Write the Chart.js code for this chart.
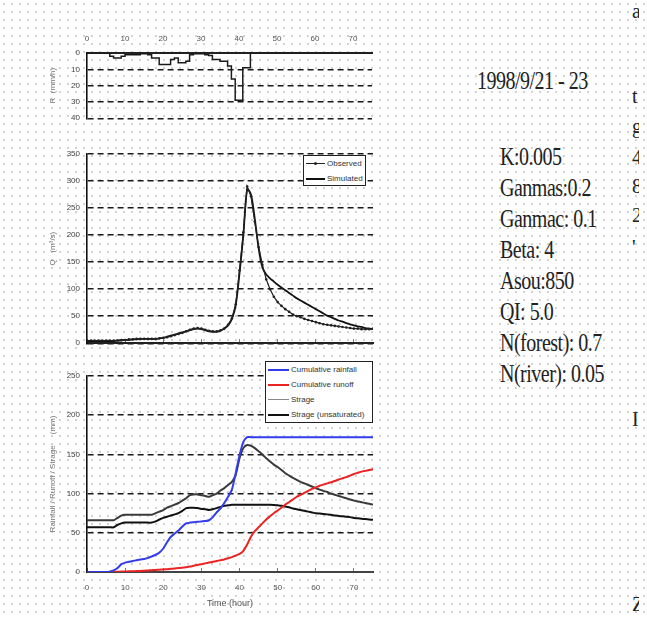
<!DOCTYPE html>
<html>
<head>
<meta charset="utf-8">
<script src="https://cdn.jsdelivr.net/npm/chart.js@4.4.1/dist/chart.umd.min.js"></script>
<style>
body { margin:0; width:647px; height:617px; position:relative; overflow:hidden; background-color:#fff;
  background-image: radial-gradient(circle, #d2d2d2 0.9px, transparent 1.3px); background-size: 8px 8px;
  font-family: 'Liberation Sans', Arial, sans-serif; }
canvas { position:absolute; }
.legend { position:absolute; background:#fff; border:1px solid #222; font-size:8px; color:#333; box-sizing:border-box; }
.legend div { height:15px; line-height:15px; white-space:nowrap; position:relative; }
.legend .sw { display:inline-block; width:20px; vertical-align:middle; margin:0 2px 0 2px; position:relative; }
.info { position:absolute; font-family:'Liberation Serif','Times New Roman',serif; font-size:20px; color:#222;
  transform-origin:0 0; transform:scaleY(1.25); letter-spacing:-0.5px; white-space:nowrap; }
.edge { position:absolute; left:630px; top:0; width:9px; height:617px; overflow:hidden; }
.edge div { position:absolute; left:2px; font-family:'Liberation Serif',serif; font-size:20px; color:#222; }
</style>
</head>
<body>
<canvas id="rain" width="340" height="105" style="left:40px;top:25px"></canvas>
<canvas id="flow" width="340" height="215" style="left:40px;top:140px"></canvas>
<canvas id="bal" width="340" height="255" style="left:40px;top:362px"></canvas>
<div class="legend" id="leg1" style="left:303px;top:155px;width:63px;height:31px"></div>
<div class="legend" id="leg2" style="left:265px;top:361px;width:108px;height:62px"></div>
<div id="txt"></div>
<div class="edge" id="edge"></div>
<script>
// hours 0..75
let horas = [0,1,2,3,4,5,6,7,8,9,10,11,12,13,14,15,16,17,18,19,20,21,22,23,24,25,26,27,28,29,30,31,32,33,34,35,36,37,38,39,
  40,41,42,43,44,45,46,47,48,49,50,51,52,53,54,55,56,57,58,59,60,61,62,63,64,65,66,67,68,69,70,71,72,73,74,75];
let ticksX = [0,10,20,30,40,50,60,70];

// rainfall intensity (mm/h)
let lluvia = [0,0,0,0,0,0,2,3,3,2,1,1,1,1,0.5,0.5,1,3,3,7,7,7,4,3,6,6,5,1,0.5,0.5,0.5,1,1.5,4,4,5,5,8,16,29,
  29,9,9,0,0,0,0,0,0,0,0,0,0,0,0,0,0,0,0,0,0,0,0,0,0,0,0,0,0,0,0,0,0,0,0,0];

// discharge
let observado = [5,5,5,5,5,5,5,5,5,6,6,7,7,8,8,8,8,8,8,9,10,11,13,15,17,19,22,25,27,28,27,25,23,22,22,24,27,34,46,72,
  135,205,290,272,225,178,145,118,100,86,76,69,63,58,53,50,48,45,43,41,39,37,35,34,33,32,31,30,29,28,27,27,26,26,26,27];
let simulado = [4,4,4,4,4,4,4,4,5,5,6,6,7,7,8,8,8,8,8,9,10,12,14,16,18,20,22,24,26,27,26,24,22,21,21,23,27,33,45,70,
  130,200,285,275,230,176,140,127,120,114,108,103,98,93,88,83,79,75,71,67,63,59,55,51,48,45,42,40,37,35,33,31,30,28,27,26];

// water balance (mm)
let lluviaAcum = [0,0,0,0,0,0,0.5,2,5,10,12,13,14,15,16,16.5,18,20,22,25,30,38,45,49,53,58,62,63,63.5,64,64.5,65,66,70,76,81,88,96,105,126,
  149,166,172,172,172,172,172,172,172,172,172,172,172,172,172,172,172,172,172,172,172,172,172,172,172,172,172,172,172,172,172,172,172,172,172,172];
let escorrentia = [0,0,0,0,0,0,0.2,0.3,0.4,0.5,0.6,0.8,1,1.2,1.4,1.7,2,2.3,2.6,2.9,3.2,3.6,4,4.5,5,5.5,6.2,7,8,9,10,11,12,13,14,15,16,17.5,19,21,
  23,27,35,45,52,57,62,67,71,75,78.5,82,86,89,92.5,96,98.5,101,103.5,106,108,110,111.5,113,114.5,116,118,119.5,121,123,125,126.5,128,129,130,131];
let almacen = [66,66,66,66,66,66,66,66,69,72,73,73,73,73,73,73,73,73,75,77,79,82,84,86,88,91,94,98,99,99,98,97,96,98,100,104,107,111,115,124,
  145,158,162,161,158,154,150,145,141,137,134,130,126,123,120,117.5,115,113,111,109,107,105,103.5,102,100,98.5,97,95.5,94,92.5,91,90,89,88,87,86];
let almacenNoSat = [57,57,57,57,57,57,57,57,60,62,63,63,63,63,63,63,63,63,64.5,67,69,70.5,72,73.5,75,78,81.5,82,82,81.5,80.5,80,79,80,81.5,83,84.5,85,85.7,85.7,
  85.7,85.7,85.7,85.7,85.7,85.7,85.7,85.7,85.7,85.5,85,84.5,83.6,82.5,81,80,79,78,77,76,75,74.5,74,73.5,73,72,71.5,71,70.5,70,69,68.5,68,67.5,67,66.6];

let parametros = ['K:0.005','Ganmas:0.2','Ganmac: 0.1','Beta: 4','Asou:850','QI: 5.0','N(forest): 0.7','N(river): 0.05'];
let fecha = '1998/9/21 - 23';

function pares(vals){
  let r = [];
  for (let i = 0; i < horas.length; i++) r.push({x: horas[i], y: vals[i]});
  return r;
}

let fuente = {family: "'Liberation Sans', Arial, sans-serif", size: 8};
let rejilla = {color: '#1a1a1a', lineWidth: 1.4, drawTicks: false};
let bordeY = {display: true, color: '#111', width: 1.6, dash: [6, 4]};

function ejeY(max, paso, titulo){
  return {
    min: 0, max: max,
    ticks: {stepSize: paso, font: fuente, color: '#444', padding: 7, includeBounds: false},
    grid: rejilla,
    border: bordeY,
    title: {display: true, text: titulo, font: {family: fuente.family, size: 8}, color: '#777', padding: {top: 8, bottom: 0}},
    afterFit: function(s){ s.width = 47; }
  };
}

let comunes = {responsive: false, animation: false, devicePixelRatio: 1,
  plugins: {legend: {display: false}, tooltip: {enabled: false}}};

// top: hyetograph
let yR = ejeY(40, 10, 'R  (mm/h)');
yR.reverse = true;
new Chart(document.getElementById('rain'), {
  type: 'line',
  data: {datasets: [{label: 'Rainfall', data: pares(lluvia), stepped: true, borderColor: '#1a1a1a', borderWidth: 1.5, pointRadius: 0, fill: false}]},
  options: Object.assign({}, comunes, {
    layout: {padding: {left: 0, right: 8, top: 0, bottom: 4}},
    scales: {
      x: {type: 'linear', position: 'top', min: 0, max: 75,
        afterBuildTicks: function(s){ s.ticks = ticksX.map(v => ({value: v})); },
        ticks: {font: fuente, color: '#555', padding: 9},
        grid: {display: false, drawTicks: false},
        border: {display: true, color: '#222', width: 2},
        afterFit: function(s){ s.height = 28; }},
      y: yR
    }
  })
});

// middle: discharge
new Chart(document.getElementById('flow'), {
  type: 'line',
  data: {datasets: [
    {label: 'Observed', data: pares(observado), borderColor: '#222', borderWidth: 1.2, pointRadius: 1.3, pointBackgroundColor: '#222', pointBorderWidth: 0, tension: 0},
    {label: 'Simulated', data: pares(simulado), borderColor: '#111', borderWidth: 1.8, pointRadius: 0, tension: 0.3}
  ]},
  options: Object.assign({}, comunes, {
    layout: {padding: {left: 0, right: 7, top: 14, bottom: 0}},
    scales: {
      x: {type: 'linear', position: 'bottom', min: 0, max: 75,
        afterBuildTicks: function(s){ s.ticks = ticksX.map(v => ({value: v})); },
        ticks: {display: false},
        grid: {display: true, drawOnChartArea: false, drawTicks: true, tickLength: -4, color: '#777', lineWidth: 1},
        border: {display: true, color: '#222', width: 2},
        afterFit: function(s){ s.height = 7; }},
      y: ejeY(350, 50, 'Q   (m³/s)')
    }
  })
});

// bottom: cumulative balance
new Chart(document.getElementById('bal'), {
  type: 'line',
  data: {datasets: [
    {label: 'Cumulative rainfall', data: pares(lluviaAcum), borderColor: 'rgb(50,60,235)', borderWidth: 2, pointRadius: 0, tension: 0.2},
    {label: 'Cumulative runoff', data: pares(escorrentia), borderColor: 'rgb(235,35,35)', borderWidth: 2, pointRadius: 0, tension: 0.2},
    {label: 'Strage', data: pares(almacen), borderColor: '#3a3a3a', borderWidth: 2, pointRadius: 0, tension: 0.2},
    {label: 'Strage (unsaturated)', data: pares(almacenNoSat), borderColor: '#111', borderWidth: 2, pointRadius: 0, tension: 0.2}
  ]},
  options: Object.assign({}, comunes, {
    layout: {padding: {left: 0, right: 7, top: 14, bottom: 0}},
    scales: {
      x: {type: 'linear', position: 'bottom', min: 0, max: 75,
        afterBuildTicks: function(s){ s.ticks = ticksX.map(v => ({value: v})); },
        ticks: {font: fuente, color: '#555', padding: 15},
        grid: {display: true, drawOnChartArea: false, drawTicks: true, tickLength: -4, color: '#777', lineWidth: 1},
        border: {display: true, color: '#444', width: 2},
        title: {display: true, text: 'Time (hour)', font: {family: fuente.family, size: 9}, color: '#555', padding: {top: 0, bottom: 8}},
        afterFit: function(s){ s.height = 45; }},
      y: ejeY(250, 50, 'Rainfall / Runoff / Strage     (mm)')
    }
  })
});

// html legends
function leyenda(id, items){
  let caja = document.getElementById(id);
  caja.innerHTML = '';
  items.forEach(function(it){
    let marca = it.punto ? '<span style="position:absolute;left:8px;top:-2px;width:3px;height:3px;background:#222;border-radius:50%"></span>' : '';
    caja.innerHTML += '<div><span class="sw" style="width:' + it.w + 'px;border-top:' + it.ancho + 'px solid ' + it.color + '">' + marca + '</span>' + it.texto + '</div>';
  });
}
leyenda('leg1', [
  {texto: 'Observed', color: '#222', ancho: 1, w: 19, punto: true},
  {texto: 'Simulated', color: '#111', ancho: 2, w: 19}
]);
leyenda('leg2', [
  {texto: 'Cumulative rainfall', color: 'rgb(50,60,235)', ancho: 2, w: 21},
  {texto: 'Cumulative runoff', color: 'rgb(235,35,35)', ancho: 2, w: 21},
  {texto: 'Strage', color: '#888', ancho: 1, w: 21},
  {texto: 'Strage (unsaturated)', color: '#111', ancho: 2, w: 21}
]);

// parameter text
let txt = document.getElementById('txt');
txt.innerHTML = '<div class="info" style="left:477px;top:66px">' + fecha + '</div>';
parametros.forEach(function(p, i){
  txt.innerHTML += '<div class="info" style="left:500px;top:' + (142 + i * 31) + 'px">' + p + '</div>';
});

// clipped text at the right edge
let bordeTxt = [['a', 0], ['t', 85], ['g', 115], ['4', 146], ['8', 175], ['2', 204], ['\'', 236], ['I', 408], ['Z', 593]];
let edge = document.getElementById('edge');
bordeTxt.forEach(function(b){ edge.innerHTML += '<div style="top:' + b[1] + 'px">' + b[0] + '</div>'; });
</script>
</body>
</html>
